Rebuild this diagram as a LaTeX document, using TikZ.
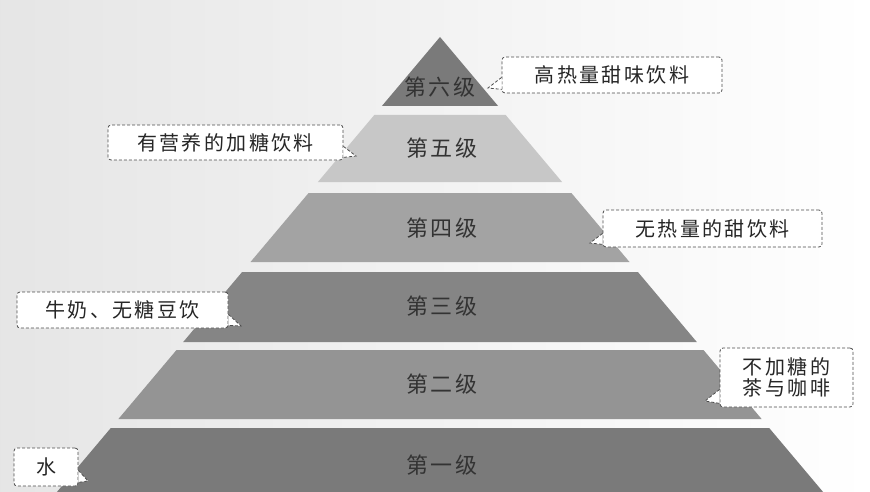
\documentclass[tikz,border=0pt]{standalone}
\usepackage{fontspec}
\usetikzlibrary{calc}
\newfontfamily\cjk[LetterSpace=12]{Noto Sans CJK SC}
\begin{document}
\begin{tikzpicture}[x=1pt,y=-1pt,
  lvl/.style={font=\cjk\fontsize{22}{24}\selectfont, text=black!80},
  callout/.style={draw=black!70, densely dashed, line width=0.8pt, fill=white, rounded corners=3pt, font=\cjk\fontsize{20}{24}\selectfont, text=black!85, inner sep=0pt, align=center},
  tail/.style={draw=black!70, densely dashed, line width=0.8pt}]
\useasboundingbox (0,0) rectangle (870,492);
\shade[left color=black!10, right color=white] (0,0) rectangle (870,492);
\fill[black!52] (440,37) -- (498.1,106) -- (381.9,106) -- cycle;
\fill[black!22] (374.3,115) -- (505.7,115) -- (562.1,182) -- (317.9,182) -- cycle;
\fill[black!36] (308.6,193) -- (571.4,193) -- (629.5,262) -- (250.5,262) -- cycle;
\fill[black!48] (242.1,272) -- (637.9,272) -- (696.8,342) -- (183.2,342) -- cycle;
\fill[black!42] (176.5,350) -- (703.5,350) -- (761.6,419) -- (118.4,419) -- cycle;
\fill[black!52] (110.8,428) -- (769.2,428) -- (823.1,492) -- (56.9,492) -- cycle;
\node[lvl] (l6) at (440,87) {第六级};
\node[lvl] (l5) at (442,148) {第五级};
\node[lvl] (l4) at (442,228) {第四级};
\node[lvl] (l3) at (442,306) {第三级};
\node[lvl] (l2) at (442,384) {第二级};
\node[lvl] (l1) at (442,465) {第一级};
% callouts
\node[callout, minimum width=220pt, minimum height=36pt] (c6) at (612,75) {高热量甜味饮料};
\node[callout, minimum width=235pt, minimum height=35pt] (c5) at (225.5,142.5) {有营养的加糖饮料};
\node[callout, minimum width=219pt, minimum height=37pt] (c4) at (712.5,228.5) {无热量的甜饮料};
\node[callout, minimum width=211pt, minimum height=36pt] (c3) at (122.5,310) {牛奶、无糖豆饮};
\node[callout, minimum width=133pt, minimum height=59pt] (c2) at (786.5,377.5) {不加糖的\\[-3pt]茶与咖啡};
\node[callout, minimum width=64pt, minimum height=38pt] (c1) at (46,467) {水};
\coordinate (t6) at (488,88);
\coordinate (t5) at (356,156);
\coordinate (t4) at (590,243);
\coordinate (t3) at (241,326);
\coordinate (t2) at (705,401);
\coordinate (t1) at (88,481);
\foreach \c/\t/\s/\ua/\ub in {c6/t6/south west/-16/-4,
                          c5/t5/south east/-14/-3,
                          c4/t4/south west/-14/-3,
                          c3/t3/south east/-14/-3,
                          c2/t2/south west/-18/-4,
                          c1/t1/south east/-16/-4}{
  \fill[white] ($(\c.\s)+(0,\ua)$) -- (\t) -- ($(\c.\s)+(0,\ub)$) -- cycle;
  \draw[tail] ($(\c.\s)+(0,\ua)$) -- (\t) -- ($(\c.\s)+(0,\ub)$);
}
\end{tikzpicture}
\end{document}
